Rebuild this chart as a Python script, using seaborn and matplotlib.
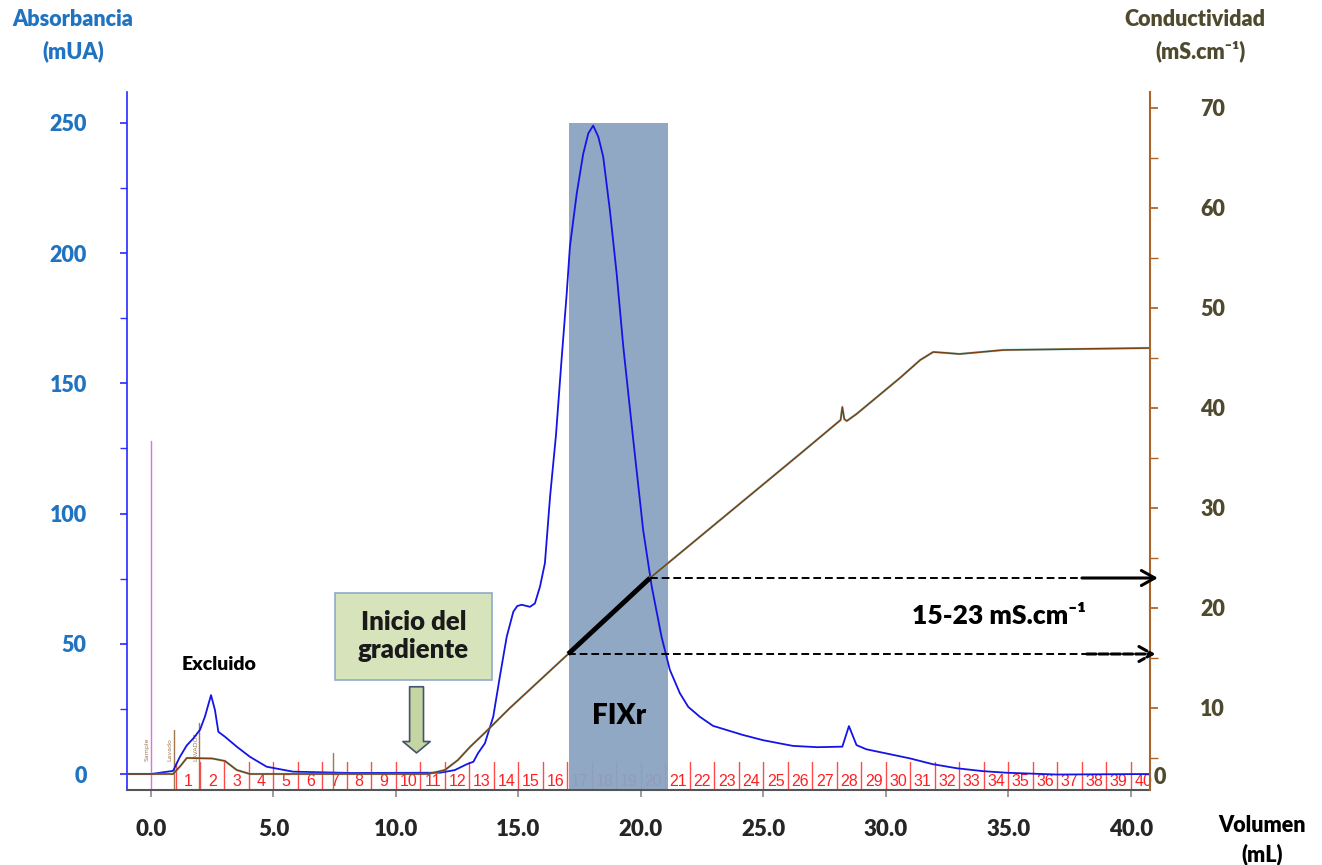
import numpy as np
import pandas as pd
import matplotlib
matplotlib.use("Agg")
import matplotlib.pyplot as plt
import matplotlib.transforms as mtransforms
from matplotlib.patches import Rectangle
import seaborn as sns

# absorbance trace (mL, mUA)
vol_abs = [-1.0, 0.0, 0.9, 1.18, 1.46, 1.73, 2.0, 2.2, 2.45, 2.61, 2.75, 3.02, 3.5, 4.04,
           4.72, 5.8, 8.2, 11.8, 12.4, 12.9, 13.16, 13.35, 13.63, 13.97, 14.24, 14.52,
           14.79, 14.95, 15.13, 15.47, 15.67, 15.88, 16.08, 16.29, 16.53, 16.75, 16.97,
           17.10, 17.38, 17.64, 17.85, 18.05, 18.26, 18.46, 18.73, 19.01, 19.28, 19.69,
           20.09, 20.44, 20.84, 21.18, 21.59, 21.93, 22.4, 22.94, 24.16, 24.98, 26.2,
           27.2, 28.22, 28.49, 28.8, 29.2, 30.98, 31.9, 32.9, 33.96, 34.9, 36.97, 40.8]
absorb = [0.0, 0.0, 1.2, 6.6, 11.0, 13.7, 17.0, 22.0, 30.3, 24.6, 16.2, 14.3, 10.5, 6.6,
          2.8, 0.9, 0.4, 0.5, 1.5, 3.8, 4.7, 8.0, 11.8, 22.0, 37.4, 52.7,
          62.3, 64.5, 65.0, 64.2, 65.5, 72.0, 81.0, 106.5, 130.0, 158.0, 184.6,
          202.5, 223.0, 238.0, 246.0, 249.0, 244.7, 237.0, 216.6, 192.0, 164.0, 128.0,
          93.7, 72.0, 52.7, 40.0, 31.0, 25.8, 22.0, 18.5, 15.0, 13.0, 10.8,
          10.3, 10.5, 18.4, 11.1, 9.5, 6.0, 3.8, 2.2, 1.1, 0.5, -0.2, 0.0]

# conductivity trace (mL, mS/cm)
vol_cond = [-1.0, 0.9, 1.2, 1.46, 2.5, 3.02, 3.5, 4.04, 11.3, 12.0, 12.53, 13.02, 13.66,
            14.65, 17.03, 20.37, 26.49, 28.15, 28.22, 28.3, 28.4, 28.8, 30.57, 31.4,
            31.93, 32.5, 33.0, 34.8, 40.8]
cond = [3.4, 3.4, 4.2, 5.0, 4.95, 4.7, 3.8, 3.4, 3.4, 3.8, 4.8, 6.1, 7.6,
        10.0, 15.4, 23.0, 35.4, 38.8, 40.1, 38.9, 38.7, 39.4, 43.0, 44.8,
        45.6, 45.5, 45.4, 45.8, 46.0]

fractions = list(range(1, 41))
events = ["Sample", "Lavado", "LAVADO1", ""]
event_vol = [0.0, 0.94, 1.97, 7.44]
event_top = [128, 17, 19.5, 8]

fixr_vol = [17.05, 21.1]
fixr_top = 250
cond_range = [15.4, 23.0]
cond_range_vol = [17.03, 20.37]

abs_ticks = [0, 50, 100, 150, 200, 250]
cond_ticks = [10, 20, 30, 40, 50, 60, 70]
vol_ticks = [0, 5, 10, 15, 20, 25, 30, 35, 40]
vol_labels = ["0.0", "5.0", "10.0", "15.0", "20.0", "25.0", "30.0", "35.0", "40.0"]

df_abs = pd.DataFrame({"vol": vol_abs, "abs": absorb})
df_cond = pd.DataFrame({"vol": vol_cond, "cond": cond})

sns.set_theme(style="white")
plt.rcParams["font.family"] = ["Lato", "DejaVu Sans"]

BLUE_TXT = "#1f73c0"
OLIVE = "#4f4a2e"
W = "heavy"

fig = plt.figure(figsize=(13.22, 8.65), dpi=100)
ax = fig.add_axes([127 / 1322, 75 / 865, 1023 / 1322, 698 / 865])
ax2 = ax.twinx()

ax.set_xlim(-0.98, 40.78)
ax.set_ylim(-6.14, 261.9)
ax2.set_ylim(1.8, 71.6)

# fraction marks and numbers
xt = ax.get_xaxis_transform()
for f in fractions:
    ax.plot([f, f], [0, 0.04], transform=xt, color="#ff4a4a", lw=1, zorder=1)
    ax.text(f + 0.5, 0.012, str(f), transform=xt, ha="center", va="center",
            color="#ff2020", fontsize=11.5, family=["Liberation Sans"], zorder=1)

# event markers
for name, v, top in zip(events, event_vol, event_top):
    col = "#e070e0" if name == "Sample" else "#a07850"
    ax.plot([v, v], [-6.14, top], color=col, lw=1, zorder=1)
    if name:
        ax.text(v - 0.05, 5, name, rotation=90, fontsize=4.5, color="#a07850",
                ha="right", va="bottom", family=["DejaVu Sans"], zorder=1)

# FIXr region
ax.fill_between(fixr_vol, -6.14, fixr_top, color="#8aa3c1", alpha=0.95, lw=0, zorder=2)

sns.lineplot(data=df_abs, x="vol", y="abs", ax=ax, color="#1414e6", lw=1.3, zorder=3)

sns.lineplot(data=df_cond, x="vol", y="cond", ax=ax2, color="#5fd0e8", lw=1.8, alpha=0.5)
sns.lineplot(data=df_cond, x="vol", y="cond", ax=ax2, color="#7a4212", lw=1.2)

# 15-23 mS range markers
ax2.plot(cond_range_vol, cond_range, color="black", lw=3.5, solid_capstyle="butt")
ax2.plot([cond_range_vol[0], 38.2], [cond_range[0]] * 2, color="black", lw=1.4, ls=(0, (4, 2)))
ax2.plot([cond_range_vol[1], 38.0], [cond_range[1]] * 2, color="black", lw=1.4, ls=(0, (4, 2)))
ax2.annotate("", xy=(41.1, cond_range[1]), xytext=(38.0, cond_range[1]),
             annotation_clip=False,
             arrowprops=dict(arrowstyle="->,head_length=0.8,head_width=0.45", lw=2.2,
                             color="black", shrinkA=0, shrinkB=0))
ax2.annotate("", xy=(41.0, cond_range[0]), xytext=(38.2, cond_range[0]),
             annotation_clip=False,
             arrowprops=dict(arrowstyle="->,head_length=0.8,head_width=0.45", lw=2.2,
                             ls=(0, (3, 1)), color="black", shrinkA=0, shrinkB=0))
ax2.text(34.6, 19.2, "15-23 mS.cm\u207b\u00b9", fontsize=19, fontweight=W,
         ha="center", va="center", color="black")

# annotations
ax.text(2.78, 42.2, "Excluido", fontsize=14, fontweight=W, ha="center", va="center",
        color="black")
ax.text(19.1, 22.3, "FIXr", fontsize=20, fontweight=W, ha="center", va="center",
        color="black", zorder=4)
ax.add_patch(Rectangle((7.51, 36.1), 6.41, 33.4, facecolor="#d7e3bb", edgecolor="#8eaacb",
                       lw=1.2, zorder=4))
ax.text(10.71, 53.0, "Inicio del\ngradiente", fontsize=18.5, fontweight=W,
        ha="center", va="center", color="#1a1a1a", linespacing=1.2, zorder=5)
ax.annotate("", xy=(10.84, 8.1), xytext=(10.84, 33.5),
            arrowprops=dict(arrowstyle="simple,head_length=0.41,head_width=0.98,tail_width=0.5",
                            mutation_scale=20, fc="#c4d4a2", ec="#44546a", lw=1.2,
                            shrinkA=0, shrinkB=0), zorder=5)

# axes styling
ax.set_xticks(vol_ticks)
ax.set_xticklabels(vol_labels)
ax.set_yticks(abs_ticks)
ax.set_yticks([25, 75, 125, 175, 225], minor=True)
ax2.set_yticks(cond_ticks)
ax2.set_yticks([5, 15, 25, 35, 45, 55, 65], minor=True)
ax.set_xlabel("")
ax.set_ylabel("")
ax2.set_ylabel("")

ax.tick_params(axis="x", direction="out", length=5, color="#909090", bottom=True,
               labelsize=16, pad=16)
ax.tick_params(axis="y", which="both", direction="out", length=5, color="#3030ff", left=True,
               labelsize=15.5, labelcolor=BLUE_TXT, pad=24)
ax2.tick_params(axis="y", which="both", direction="out", length=6, color="#a8642a", right=True,
                labelsize=15.5, labelcolor=OLIVE, pad=30)
for lab in ax.get_xticklabels() + ax.get_yticklabels() + ax2.get_yticklabels():
    lab.set_fontweight(W)

for s in ["top", "right"]:
    ax.spines[s].set_visible(False)
for s in ["top", "left", "bottom"]:
    ax2.spines[s].set_visible(False)
ax.spines["left"].set_color("#2828ff")
ax.spines["left"].set_linewidth(1.2)
ax.spines["bottom"].set_color("#555555")
ax.spines["bottom"].set_linewidth(1.5)
ax2.spines["right"].set_color("#a8642a")
ax2.spines["right"].set_linewidth(1.5)

yt2 = mtransforms.blended_transform_factory(ax2.transAxes, ax2.transData)
ax2.text(1.0098, 3.1, "0", transform=yt2, fontsize=15.5, fontweight=W, color=OLIVE,
         ha="center", va="center")

# axis titles
fig.text(73 / 1322, 1 - 20 / 865, "Absorbancia", fontsize=15.5, fontweight=W,
         color=BLUE_TXT, ha="center", va="center")
fig.text(73 / 1322, 1 - 51 / 865, "(mUA)", fontsize=15.5, fontweight=W,
         color=BLUE_TXT, ha="center", va="center")
fig.text(1195 / 1322, 1 - 20 / 865, "Conductividad", fontsize=15.5, fontweight=W,
         color=OLIVE, ha="center", va="center")
fig.text(1200 / 1322, 1 - 51 / 865, "(mS.cm\u207b\u00b9)", fontsize=15.5, fontweight=W,
         color=OLIVE, ha="center", va="center")
fig.text(1262 / 1322, 1 - 826 / 865, "Volumen", fontsize=15.5, fontweight=W,
         color="black", ha="center", va="center")
fig.text(1262 / 1322, 1 - 854 / 865, "(mL)", fontsize=15.5, fontweight=W,
         color="black", ha="center", va="center")

fig.savefig("out.png", dpi=100)
